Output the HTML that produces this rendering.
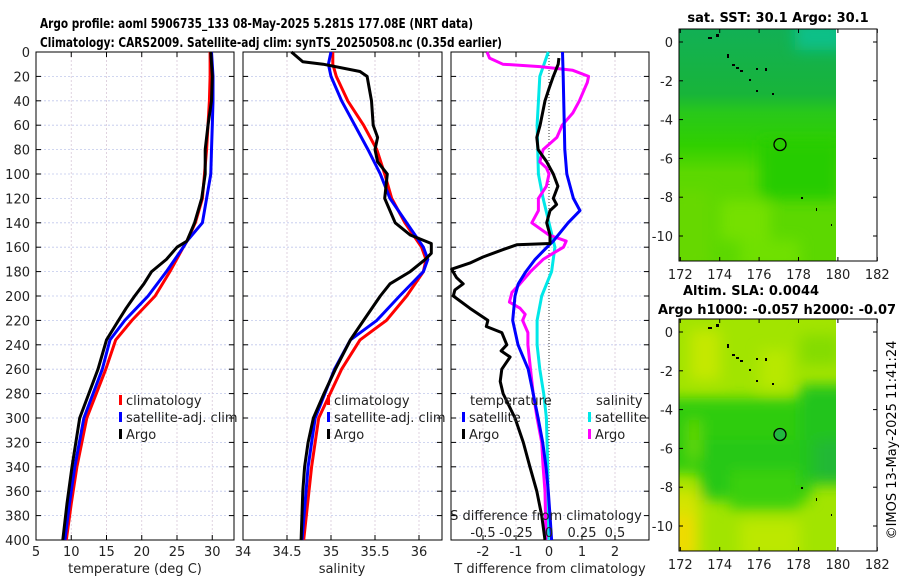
<!DOCTYPE html>
<html><head><meta charset="utf-8">
<style>
html,body{margin:0;padding:0;background:#fff;}
svg{display:block;font-family:"DejaVu Sans","Liberation Sans",sans-serif;}
</style></head>
<body>
<svg id="fig" width="900" height="580" viewBox="0 0 900 580" xmlns="http://www.w3.org/2000/svg">
<defs>
<filter id="blur" x="-20%" y="-20%" width="140%" height="140%"><feGaussianBlur stdDeviation="7"/></filter>
<clipPath id="clipM1"><rect x="679" y="29" width="157" height="232"/></clipPath>
<clipPath id="clipM2"><rect x="679" y="319" width="157" height="232"/></clipPath>
</defs>
<text x="40" y="28" font-size="13" font-weight="bold" textLength="433" lengthAdjust="spacingAndGlyphs">Argo profile: aoml 5906735_133 08-May-2025 5.281S 177.08E (NRT data)</text>
<text x="40" y="47" font-size="13" font-weight="bold" textLength="462" lengthAdjust="spacingAndGlyphs">Climatology: CARS2009. Satellite-adj clim: synTS_20250508.nc (0.35d earlier)</text>
<g id="g1"></g>
<g id="g2"></g>
<g id="g3"></g>

<!-- Map 1 -->
<g>
<text x="778" y="22" font-size="13" font-weight="bold" text-anchor="middle">sat. SST: 30.1 Argo: 30.1</text>
<g clip-path="url(#clipM1)">
<defs><linearGradient id="sstg" x1="0" y1="0" x2="0" y2="1">
<stop offset="0" stop-color="#12b055"/><stop offset="0.28" stop-color="#18b43a"/><stop offset="0.36" stop-color="#28c81a"/><stop offset="0.5" stop-color="#30d000"/><stop offset="0.62" stop-color="#5cd800"/><stop offset="1" stop-color="#5cd800"/></linearGradient></defs>
<rect x="679" y="29" width="157" height="232" fill="url(#sstg)"/>
<g filter="url(#blur)">
<rect x="795" y="20" width="50" height="30" fill="#08c088"/>
<rect x="760" y="140" width="80" height="60" fill="#28cc00"/>
<rect x="670" y="190" width="40" height="80" fill="#66d800"/>
<rect x="720" y="200" width="50" height="40" fill="#74e000"/>
<rect x="740" y="240" width="60" height="30" fill="#70e000"/>
</g>
</g>
<rect x="679" y="29" width="198" height="232" fill="none" stroke="#000" stroke-width="1"/>
<circle cx="780" cy="144.5" r="6" fill="none" stroke="#000" stroke-width="1.3"/>
<g fill="#000">
<rect x="708" y="37" width="4" height="2"/><rect x="716" y="34" width="3" height="3"/><rect x="727" y="54" width="2" height="4"/>
<rect x="732" y="64" width="3" height="2"/><rect x="736" y="67" width="3" height="2"/><rect x="740" y="70" width="3" height="2"/>
<rect x="756" y="68" width="2" height="2"/><rect x="765" y="68" width="2" height="3"/><rect x="749" y="79" width="2" height="2"/>
<rect x="756" y="90" width="2" height="2"/><rect x="772" y="93" width="2" height="2"/><rect x="801" y="197" width="2" height="2"/><rect x="816" y="208" width="1" height="3"/><rect x="831" y="224" width="1" height="2"/>
</g>
</g>

<!-- Map 2 -->
<g>
<text x="683" y="295" font-size="13" font-weight="bold">Altim. SLA: 0.0044</text>
<text x="658" y="314" font-size="13" font-weight="bold">Argo h1000: -0.057 h2000: -0.07</text>
<g clip-path="url(#clipM2)">
<rect x="679" y="319" width="157" height="232" fill="#a2e400"/>
<g filter="url(#blur)">
<rect x="660" y="398" width="200" height="75" fill="#2ecc10"/>
<rect x="700" y="440" width="110" height="60" fill="#28c818"/>
<rect x="800" y="385" width="50" height="100" fill="#22c41e"/>
<rect x="815" y="440" width="30" height="40" fill="#20b834"/>
<rect x="730" y="470" width="70" height="40" fill="#3ad010"/>
<rect x="688" y="420" width="12" height="40" fill="#66d800"/>
<rect x="665" y="490" width="35" height="70" fill="#d4e400"/>
<rect x="665" y="515" width="30" height="45" fill="#eedc00"/>
<rect x="690" y="330" width="30" height="50" fill="#c4e800"/>
<rect x="760" y="350" width="30" height="40" fill="#b8e800"/>
<rect x="800" y="335" width="40" height="30" fill="#84dc00"/>
<rect x="740" y="520" width="60" height="40" fill="#bce800"/>
</g>
</g>
<rect x="679" y="319" width="198" height="232" fill="none" stroke="#000" stroke-width="1"/>
<circle cx="780" cy="434.5" r="6" fill="#22b840" stroke="#000" stroke-width="1.3"/>
<g fill="#000">
<rect x="708" y="327" width="4" height="2"/><rect x="716" y="324" width="3" height="3"/><rect x="727" y="344" width="2" height="4"/>
<rect x="732" y="354" width="3" height="2"/><rect x="736" y="357" width="3" height="2"/><rect x="740" y="360" width="3" height="2"/>
<rect x="756" y="358" width="2" height="2"/><rect x="765" y="358" width="2" height="3"/><rect x="749" y="369" width="2" height="2"/>
<rect x="756" y="380" width="2" height="2"/><rect x="772" y="383" width="2" height="2"/><rect x="801" y="487" width="2" height="2"/><rect x="816" y="498" width="1" height="3"/><rect x="831" y="514" width="1" height="2"/>
</g>
<text transform="translate(896,440) rotate(-90)" font-size="13" text-anchor="middle">©IMOS 13-May-2025 11:41:24</text>
</g>
<g id="mapaxes"></g>
</svg>
<script>
// Depth levels (m) for profiles
const depthsClim = [0,20,40,60,80,100,120,140,155,160,180,200,220,236,260,300,340,370,400];
const tempClim   = [29.7,29.7,29.6,29.4,29.2,28.9,28.6,27.6,26.4,25.9,24.0,21.9,18.6,16.3,14.9,12.2,10.8,10.0,9.3];
const tempSat    = [29.9,30.1,30.1,30.0,29.9,29.8,29.2,28.6,26.4,25.9,23.5,20.9,17.6,15.5,14.4,11.8,10.5,9.75,9.1];
const depthsArgoT= [0,20,40,60,80,100,120,140,155,160,170,180,190,200,210,220,236,260,300,340,370,400];
const tempArgo   = [29.8,30.0,29.9,29.4,29.0,29.0,28.5,27.5,26.4,25.0,23.5,21.4,20.3,19.0,17.8,16.7,15.0,13.8,11.2,10.1,9.4,8.8];

const depthsSal = [0,10,20,40,60,80,100,120,140,160,170,180,200,220,236,260,300,340,400];
const salClim   = [35.02,35.02,35.06,35.19,35.37,35.52,35.61,35.69,35.84,36.03,36.08,36.05,35.86,35.63,35.33,35.12,34.86,34.78,34.69];
const salSat    = [35.0,34.97,35.0,35.12,35.27,35.42,35.56,35.67,35.86,36.05,36.1,36.05,35.78,35.52,35.22,35.04,34.82,34.74,34.67];
const depthsArgoS=[0,8,10,16,20,40,60,70,80,90,100,120,140,150,157,165,170,180,190,200,220,236,260,280,300,320,340,360,400];
const salArgo   = [34.55,34.68,34.91,35.33,35.41,35.46,35.48,35.53,35.5,35.53,35.64,35.61,35.73,35.9,36.14,36.14,36.07,35.9,35.67,35.56,35.37,35.22,35.05,34.92,34.8,34.74,34.7,34.68,34.66];

const depthsDT = [0,20,80,100,120,130,140,155,160,170,180,190,200,220,240,260,280,300,320,340,360,380,400];
const dTsat    = [0.41,0.43,0.48,0.54,0.74,0.94,0.58,0.13,-0.06,-0.42,-0.7,-0.93,-1.03,-1.1,-0.94,-0.63,-0.48,-0.33,-0.19,-0.09,-0.02,0.03,0.08];
const depthsDTa= [5,10,20,30,40,60,70,80,90,100,110,120,125,130,140,150,157,158,162,168,173,178,185,190,195,200,210,220,225,230,240,245,250,260,270,280,300,320,340,360,380,400];
const dTargo   = [0.3,0.28,0.13,0,-0.12,-0.27,-0.37,-0.33,-0.07,0.13,0.27,0.13,0.23,0.03,-0.07,0.03,0.03,-0.98,-1.39,-2.0,-2.4,-2.95,-2.8,-2.6,-2.85,-2.9,-2.4,-1.85,-1.9,-1.43,-1.28,-1.45,-1.18,-1.43,-1.48,-1.39,-1.03,-0.78,-0.58,-0.37,-0.22,-0.12];
const depthsDS = [0,20,60,100,120,140,160,180,200,220,240,260,280,300,340,400];
const dSsat    = [-0.005,-0.07,-0.09,-0.08,-0.045,0,0.045,0.02,-0.055,-0.09,-0.09,-0.07,-0.04,-0.02,-0.01,-0.005];
const depthsDSa= [0,5,10,12,15,20,25,30,40,50,60,70,80,90,95,100,110,120,130,140,150,155,160,165,170,180,190,197,205,210,215,220,230,240,260,280,300,320,340,360,400];
const dSargo   = [-0.47,-0.45,-0.35,-0.07,0.18,0.3,0.29,0.27,0.23,0.18,0.1,0.06,-0.045,-0.07,-0.02,0,-0.02,-0.08,-0.08,-0.13,0,0.13,0.11,0.03,-0.045,-0.14,-0.22,-0.28,-0.3,-0.22,-0.18,-0.2,-0.16,-0.16,-0.14,-0.12,-0.09,-0.055,-0.045,-0.03,-0.023];

const depthTicks = [0,20,40,60,80,100,120,140,160,180,200,220,240,260,280,300,320,340,360,380,400];
const tempTicks = [5,10,15,20,25,30];
const salTicks = [34,34.5,35,35.5,36];
const salTickLabels = ["34","34.5","35","35.5","36"];
const dTTicks = [-2,-1,0,1,2];
const dSTickLabels = ["-0.5","-0.25","0","0.25","0.5"];
const dSTicks = [-0.5,-0.25,0,0.25,0.5];
const lonTicks = [172,174,176,178,180,182];
const latTicks = [0,-2,-4,-6,-8,-10];

const NS = "http://www.w3.org/2000/svg";
const PT = 52, PB = 540;
const yD = d => PT + d*(PB-PT)/400;
const xT = t => 36 + (t-5)*7.05;
const xS = s => 243 + (s-34)*88;
const xDT = v => 549 + v*33;
const xDS = v => 549 + v*132;

function mk(tag, attrs, parent){
  const e = document.createElementNS(NS, tag);
  for (const k in attrs) e.setAttribute(k, attrs[k]);
  parent.appendChild(e);
  return e;
}
function panel(g, x0, x1, xgrid, name){
  depthTicks.forEach(d=>{
    if(d>0 && d<400){
      const l = mk('line',{x1:x0,x2:x1,y1:yD(d),y2:yD(d),stroke:'#c0c8ec','stroke-width':0.8,'stroke-dasharray':'2,2'},g);
      
      
    }
    mk('line',{x1:x0,x2:x0+5,y1:yD(d),y2:yD(d),stroke:'#000'},g);
    mk('line',{x1:x1-5,x2:x1,y1:yD(d),y2:yD(d),stroke:'#000'},g);
  });
  xgrid.forEach(x=>{
    const l = mk('line',{x1:x,x2:x,y1:PT,y2:PB,stroke:'#d8c8d8','stroke-width':0.8,'stroke-dasharray':'2,2'},g);
    
    
    mk('line',{x1:x,x2:x,y1:PT,y2:PT+5,stroke:'#000'},g);
    mk('line',{x1:x,x2:x,y1:PB-5,y2:PB,stroke:'#000'},g);
  });
  const r = mk('rect',{x:x0,y:PT,width:x1-x0,height:PB-PT,fill:'none',stroke:'#000','stroke-width':1},g);
  
  
}
function line(g, xs, ds, xf, color, name){
  const pts = xs.map((v,i)=> xf(v).toFixed(1)+','+yD(ds[i]).toFixed(1)).join(' ');
  const p = mk('polyline',{points:pts,fill:'none',stroke:color,'stroke-width':3,'stroke-linejoin':'round'},g);
  
  
}
function text(g, x, y, s, anchor, size, name){
  const t = mk('text',{x:x,y:y,'font-size':size||13,'text-anchor':anchor||'start',fill:'#222'},g);
  t.textContent = s;
  
  
  return t;
}
function legend(g, x, y, color, label, name){
  const r = mk('rect',{x:x,y:y-10,width:3,height:10,fill:color},g);
  
  
  text(g, x+7, y, label, 'start', 13, name+'-label');
}

// Panel 1
const g1 = document.getElementById('g1');
panel(g1, 36, 234, tempTicks.slice(1).map(xT), 'temp');
depthTicks.forEach(d=> text(g1, 30, yD(d)+5, String(d), 'end', 13, 'depth-tick-label'));
tempTicks.forEach(t=> text(g1, xT(t), 556, String(t), 'middle', 13, 'temp-tick-label'));
text(g1, 135, 573, 'temperature (deg C)', 'middle', 13, 'temp-axis-title');
line(g1, tempClim, depthsClim, xT, '#ff0000', 'temp-climatology-line');
line(g1, tempSat, depthsClim, xT, '#0000ff', 'temp-satellite-line');
line(g1, tempArgo, depthsArgoT, xT, '#000000', 'temp-argo-line');
legend(g1, 119, 405, '#ff0000', 'climatology', 'legend-climatology');
legend(g1, 119, 422, '#0000ff', 'satellite-adj. clim', 'legend-satellite');
legend(g1, 119, 439, '#000000', 'Argo', 'legend-argo');

// Panel 2
const g2 = document.getElementById('g2');
panel(g2, 243, 442, salTicks.slice(1).map(xS), 'sal');
salTicks.forEach((s,i)=> text(g2, xS(s), 556, salTickLabels[i], 'middle', 13, 'sal-tick-label'));
text(g2, 342, 573, 'salinity', 'middle', 13, 'sal-axis-title');
line(g2, salClim, depthsSal, xS, '#ff0000', 'sal-climatology-line');
line(g2, salSat, depthsSal, xS, '#0000ff', 'sal-satellite-line');
line(g2, salArgo, depthsArgoS, xS, '#000000', 'sal-argo-line');
legend(g2, 327, 405, '#ff0000', 'climatology', 'legend-sal-climatology');
legend(g2, 327, 422, '#0000ff', 'satellite-adj. clim', 'legend-sal-satellite');
legend(g2, 327, 439, '#000000', 'Argo', 'legend-sal-argo');

// Panel 3
const g3 = document.getElementById('g3');
panel(g3, 451, 649, dTTicks.filter(v=>v!==0).map(xDT), 'diff');
const zl = mk('line',{x1:xDT(0),x2:xDT(0),y1:PT,y2:PB,stroke:'#333','stroke-width':1,'stroke-dasharray':'1,2'},g3);


dTTicks.forEach(v=> text(g3, xDT(v), 556, String(v), 'middle', 13, 'dT-tick-label'));
text(g3, 550, 573, 'T difference from climatology', 'middle', 13, 'dT-axis-title');
line(g3, dSsat, depthsDS, xDS, '#00e8e8', 'dS-satellite-line');
line(g3, dSargo, depthsDSa, xDS, '#ff00ff', 'dS-argo-line');
line(g3, dTsat, depthsDT, xDT, '#0000ff', 'dT-satellite-line');
line(g3, dTargo, depthsDTa, xDT, '#000000', 'dT-argo-line');
text(g3, 546, 520, 'S difference from climatology', 'middle', 13, 'dS-axis-title');
dSTicks.forEach((v,i)=> text(g3, xDS(v), 537, dSTickLabels[i], 'middle', 13, 'dS-tick-label'));
text(g3, 470, 405, 'temperature', 'start', 13, 'legend-temperature-heading');
legend(g3, 462, 422, '#0000ff', 'satellite', 'legend-dT-satellite');
legend(g3, 462, 439, '#000000', 'Argo', 'legend-dT-argo');
text(g3, 596, 405, 'salinity', 'start', 13, 'legend-salinity-heading');
legend(g3, 588, 422, '#00e8e8', 'satellite', 'legend-dS-satellite');
legend(g3, 588, 439, '#ff00ff', 'Argo', 'legend-dS-argo');

// Map axes
const ga = document.getElementById('mapaxes');
const xLon = lo => 680.3 + (lo-172)*19.7;
[[29,261,42],[319,551,332]].forEach(([top,bot,lat0],mi)=>{
  const yLat = la => lat0 - la*19.4;
  lonTicks.forEach(lo=>{
    mk('line',{x1:xLon(lo),x2:xLon(lo),y1:bot,y2:bot-4,stroke:'#000'},ga);
    mk('line',{x1:xLon(lo),x2:xLon(lo),y1:top,y2:top+4,stroke:'#000'},ga);
    text(ga, xLon(lo), bot+18, String(lo), 'middle', 13, 'map'+(mi+1)+'-lon-label');
  });
  latTicks.forEach(la=>{
    mk('line',{x1:679,x2:683,y1:yLat(la),y2:yLat(la),stroke:'#000'},ga);
    mk('line',{x1:873,x2:877,y1:yLat(la),y2:yLat(la),stroke:'#000'},ga);
    text(ga, 673, yLat(la)+5, String(la), 'end', 13, 'map'+(mi+1)+'-lat-label');
  });
});
</script>
</body></html>
